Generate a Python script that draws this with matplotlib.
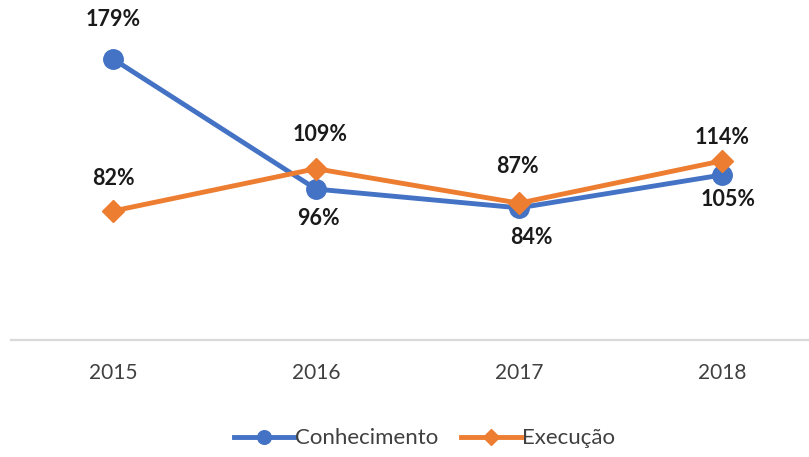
import matplotlib
matplotlib.use("Agg")
import matplotlib.pyplot as plt

years = ["2015", "2016", "2017", "2018"]
conhecimento = [179, 96, 84, 105]
execucao = [82, 109, 87, 114]

# label offsets in pixels (dx, dy) for each point
conhecimento_offsets = [(0, 39), (2, -29), (12, -30), (6, -25)]
execucao_offsets = [(0, 33), (4, 34), (-2, 37), (0, 23)]

BLUE = "#4472C4"
ORANGE = "#ED7D31"

plt.rcParams["font.family"] = ["Lato", "DejaVu Sans"]

fig = plt.figure(figsize=(8.09, 4.57), dpi=100)
ax = fig.add_axes([0.0142, 0.257, 1.0037, 0.686])

x = list(range(len(years)))
ax.plot(x, conhecimento, color=BLUE, lw=3.5, marker="o", markersize=14,
        label="Conhecimento", zorder=3)
ax.plot(x, execucao, color=ORANGE, lw=3.5, marker="D", markersize=11,
        label="Execução", zorder=4)

for xi, v, (dx, dy) in zip(x, conhecimento, conhecimento_offsets):
    ax.annotate(f"{v}%", (xi, v), xytext=(dx, dy), textcoords="offset pixels",
                ha="center", va="center", fontsize=15.5, fontweight="bold",
                color="#1a1a1a")
for xi, v, (dx, dy) in zip(x, execucao, execucao_offsets):
    ax.annotate(f"{v}%", (xi, v), xytext=(dx, dy), textcoords="offset pixels",
                ha="center", va="center", fontsize=15.5, fontweight="bold",
                color="#1a1a1a")

ax.set_xlim(-0.5, 3.5)
ax.set_ylim(0, 200)
ax.set_xticks(x)
ax.set_xticklabels(years, fontsize=15, color="#404040")
ax.tick_params(axis="x", length=0, pad=17)
ax.set_yticks([])
for side in ["top", "left", "right"]:
    ax.spines[side].set_visible(False)
ax.spines["bottom"].set_color("#D9D9D9")
ax.spines["bottom"].set_linewidth(1.6)

fig.legend(loc="lower center", bbox_to_anchor=(0.525, -0.025), ncol=2,
           frameon=False, fontsize=16, handlelength=2.7, handletextpad=0.05,
           columnspacing=1.0, labelcolor="#404040", markerscale=0.7)

fig.savefig("out.png", dpi=100)
